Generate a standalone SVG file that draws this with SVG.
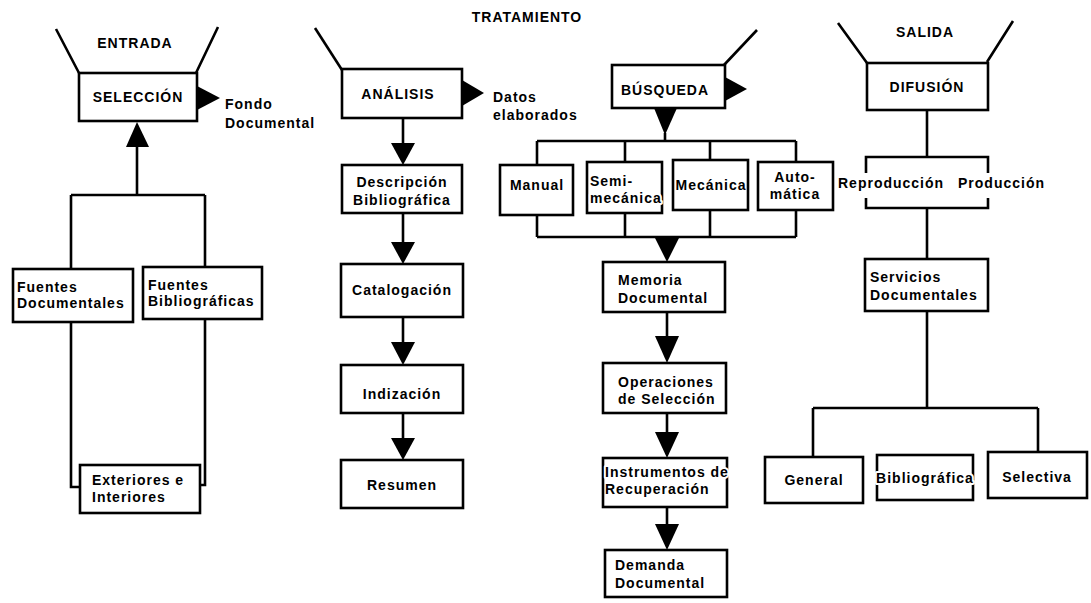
<svg xmlns="http://www.w3.org/2000/svg" width="1091" height="603" viewBox="0 0 1091 603">
<style>
rect.box{fill:#fff;stroke:#000;stroke-width:2.6}
.ln{fill:none;stroke:#000;stroke-width:2.6;stroke-linejoin:miter}
.ah{fill:#000;stroke:none}
text{font-family:"Liberation Sans",Arial,sans-serif;font-weight:bold;font-size:14px;fill:#000;letter-spacing:1px}
.c{text-anchor:middle}
.halo{stroke:#fff;stroke-width:4px;paint-order:stroke;stroke-linejoin:round}
</style>
<rect width="1091" height="603" fill="#fff"/>
<g id="labels">
<text class="c" x="135" y="48">ENTRADA</text>
<text class="c" x="527" y="22">TRATAMIENTO</text>
<text class="c" x="925" y="37">SALIDA</text>
<text x="225" y="109">Fondo</text>
<text x="225" y="128">Documental</text>
<text x="493" y="102">Datos</text>
<text x="493" y="120">elaborados</text>
</g>
<g id="connectors">
<path class="ln" d="M56,29 L79,73 M218,27 L196,73"/>
<path class="ln" d="M315,28 L342,70"/>
<path class="ln" d="M757,30 L724,65"/>
<path class="ln" d="M838,23 L867,63 M1013,21 L987,62"/>
<polygon class="ah" points="197,86 220,98 197,110"/>
<polygon class="ah" points="462,80 484,93 462,106"/>
<polygon class="ah" points="725,77 747,89 725,101"/>
<path class="ln" d="M137,145 V195 M71,195 H205 M71,195 V269 M205,195 V267 M71,322 V487 H80 M205,319 V485 H200"/>
<polygon class="ah" points="137,122 126,147 149,147"/>
<path class="ln" d="M403,118 V144 M403,213 V243 M403,317 V343 M403,413 V439"/>
<polygon class="ah" points="391,143 415,143 403,165"/>
<polygon class="ah" points="391,242 415,242 403,264"/>
<polygon class="ah" points="391,342 415,342 403,365"/>
<polygon class="ah" points="391,438 415,438 403,460"/>
<polygon class="ah" points="654,108 677,108 665,135"/>
<path class="ln" d="M665,133 V141 M537,141 H796 M537,141 V165 M625,141 V162 M710,141 V160 M796,141 V162"/>
<path class="ln" d="M537,215 V237 M625,213 V237 M710,210 V237 M796,210 V237 M537,237 H796"/>
<polygon class="ah" points="655,238 679,238 667,262"/>
<path class="ln" d="M667,312 V337 M667,413 V433 M667,507 V525"/>
<polygon class="ah" points="655,336 679,336 667,363"/>
<polygon class="ah" points="655,432 679,432 667,458"/>
<polygon class="ah" points="655,524 679,524 667,550"/>
<path class="ln" d="M927,110 V157 M866,173 V157 H988 V173 M866,198 V208 H988 V198 M927,208 V259 M927,311 V408 M813,408 H1038 M813,408 V457 M1038,408 V452"/>
</g>
<g id="seleccion"><rect class="box" x="79" y="73" width="118" height="48"/><text class="c" x="138" y="102">SELECCIÓN</text></g>
<g id="fuentes-documentales"><rect class="box" x="13" y="269" width="120" height="53"/><text x="17" y="292">Fuentes</text><text x="17" y="308">Documentales</text></g>
<g id="fuentes-bibliograficas"><rect class="box" x="143" y="267" width="119" height="52"/><text x="148" y="290">Fuentes</text><text x="148" y="306">Bibliográficas</text></g>
<g id="exteriores"><rect class="box" x="80" y="465" width="120" height="48"/><text x="92" y="485">Exteriores e</text><text x="92" y="502">Interiores</text></g>
<g id="analisis"><rect class="box" x="342" y="69" width="120" height="49"/><text class="c" x="398" y="99">ANÁLISIS</text></g>
<g id="descripcion"><rect class="box" x="342" y="165" width="120" height="48"/><text class="c" x="402" y="187">Descripción</text><text class="c" x="402" y="205">Bibliográfica</text></g>
<g id="catalogacion"><rect class="box" x="341" y="264" width="122" height="53"/><text class="c" x="402" y="295">Catalogación</text></g>
<g id="indizacion"><rect class="box" x="341" y="365" width="122" height="48"/><text class="c" x="402" y="399">Indización</text></g>
<g id="resumen"><rect class="box" x="341" y="460" width="122" height="48"/><text class="c" x="402" y="490">Resumen</text></g>
<g id="busqueda"><rect class="box" x="612" y="65" width="113" height="43"/><text class="c" x="665" y="95">BÚSQUEDA</text></g>
<g id="manual"><rect class="box" x="500" y="165" width="73" height="50"/><text class="c" x="537" y="190">Manual</text></g>
<g id="semimecanica"><rect class="box" x="587" y="162" width="75" height="51"/><text x="590" y="186">Semi-</text><text class="halo" x="590" y="203">mecánica</text></g>
<g id="mecanica"><rect class="box" x="673" y="160" width="75" height="50"/><text class="c" x="711" y="190">Mecánica</text></g>
<g id="automatica"><rect class="box" x="758" y="162" width="75" height="48"/><text class="c" x="795" y="182">Auto-</text><text class="c" x="795" y="199">mática</text></g>
<g id="memoria"><rect class="box" x="603" y="262" width="122" height="50"/><text x="618" y="285">Memoria</text><text x="618" y="303">Documental</text></g>
<g id="operaciones"><rect class="box" x="603" y="363" width="123" height="50"/><text x="618" y="387">Operaciones</text><text x="618" y="404">de Selección</text></g>
<g id="instrumentos"><rect class="box" x="603" y="458" width="124" height="49"/><text class="halo" x="605" y="477">Instrumentos de</text><text x="605" y="494">Recuperación</text></g>
<g id="demanda"><rect class="box" x="605" y="550" width="122" height="47"/><text x="615" y="570">Demanda</text><text x="615" y="588">Documental</text></g>
<g id="difusion"><rect class="box" x="867" y="63" width="121" height="47"/><text class="c" x="927" y="92">DIFUSIÓN</text></g>
<g id="reproduccion-produccion"><text x="838" y="188">Reproducción</text><text x="958" y="188">Producción</text></g>
<g id="servicios"><rect class="box" x="865" y="259" width="123" height="52"/><text x="870" y="282">Servicios</text><text x="870" y="300">Documentales</text></g>
<g id="general"><rect class="box" x="765" y="457" width="98" height="46"/><text class="c" x="814" y="485">General</text></g>
<g id="bibliografica"><rect class="box" x="877" y="455" width="96" height="45"/><text class="c halo" x="925" y="483">Bibliográfica</text></g>
<g id="selectiva"><rect class="box" x="988" y="452" width="99" height="46"/><text class="c" x="1037" y="482">Selectiva</text></g>
</svg>
